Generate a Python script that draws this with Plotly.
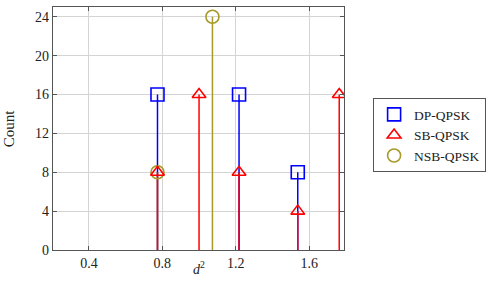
import plotly.graph_objects as go

# Data
dp_x = [0.7735, 1.2180, 1.5380]
dp_y = [16, 16, 8]
sb_x = [0.7735, 1.0, 1.2180, 1.5380, 1.7640]
sb_y = [8, 16, 8, 4, 16]
nsb_x = [0.7735, 1.0730]
nsb_y = [8, 24]

x_ticks = [0.4, 0.8, 1.2, 1.6]
y_ticks = [0, 4, 8, 12, 16, 20, 24]

BLUE = "#0000ff"
RED = "#ff0000"
OLIVE = "#a69a2a"
FONT = "Liberation Serif"


def stems(xs, ys):
    sx, sy = [], []
    for x, y in zip(xs, ys):
        sx += [x, x, None]
        sy += [0, y, None]
    return sx, sy


fig = go.Figure()

for xs, ys, col in [(dp_x, dp_y, BLUE), (nsb_x, nsb_y, OLIVE), (sb_x, sb_y, RED)]:
    sx, sy = stems(xs, ys)
    fig.add_trace(go.Scatter(x=sx, y=sy, mode="lines", line=dict(color=col, width=1.5),
                             showlegend=False, hoverinfo="skip"))

fig.add_trace(go.Scatter(x=dp_x, y=dp_y, mode="markers", name="DP-QPSK", legendrank=1,
                         marker=dict(symbol="square-open", size=13, color=BLUE,
                                     line=dict(width=1.6, color=BLUE))))
fig.add_trace(go.Scatter(x=nsb_x, y=nsb_y, mode="markers", name="NSB-QPSK", legendrank=3,
                         marker=dict(symbol="circle-open", size=13, color=OLIVE,
                                     line=dict(width=1.6, color=OLIVE))))
fig.add_trace(go.Scatter(x=sb_x, y=sb_y, mode="markers", name="SB-QPSK", legendrank=2,
                         marker=dict(symbol="triangle-up-open", size=12, color=RED,
                                     line=dict(width=1.6, color=RED))))

axis_common = dict(showgrid=True, gridcolor="#d4d4d4", gridwidth=1, showline=True,
                   linecolor="#555555", linewidth=1.2, mirror="ticks", ticks="inside",
                   ticklen=4, tickcolor="#555555", zeroline=False,
                   tickfont=dict(family=FONT, size=14, color="#222222"))

fig.update_xaxes(range=[0.204, 1.79], tickvals=x_ticks,
                 ticktext=[f"{v:.1f}" for v in x_ticks], **axis_common)
fig.update_yaxes(range=[0, 25], tickvals=y_ticks,
                 ticktext=[str(v) for v in y_ticks], **axis_common)

fig.update_layout(
    width=497, height=291,
    margin=dict(l=53, r=153, t=7, b=41),
    paper_bgcolor="white", plot_bgcolor="white",
    font=dict(family=FONT, size=14, color="#222222"),
    legend=dict(x=1.1, y=0.625, xanchor="left", yanchor="top",
                bordercolor="#555555", borderwidth=1, traceorder="normal",
                font=dict(family=FONT, size=13.5, color="#222222"),
                tracegroupgap=0, itemwidth=30),
    annotations=[
        dict(text="Count", xref="paper", yref="paper", x=-0.152, y=0.5,
             xanchor="center", yanchor="middle",
             textangle=-90, showarrow=False, font=dict(family=FONT, size=15)),
        dict(text="<i>d</i><sup>2</sup>", xref="paper", yref="paper", x=0.502, y=-0.075,
             xanchor="center", yanchor="middle", showarrow=False,
             font=dict(family=FONT, size=14)),
    ],
)

fig.write_html("out.html")
